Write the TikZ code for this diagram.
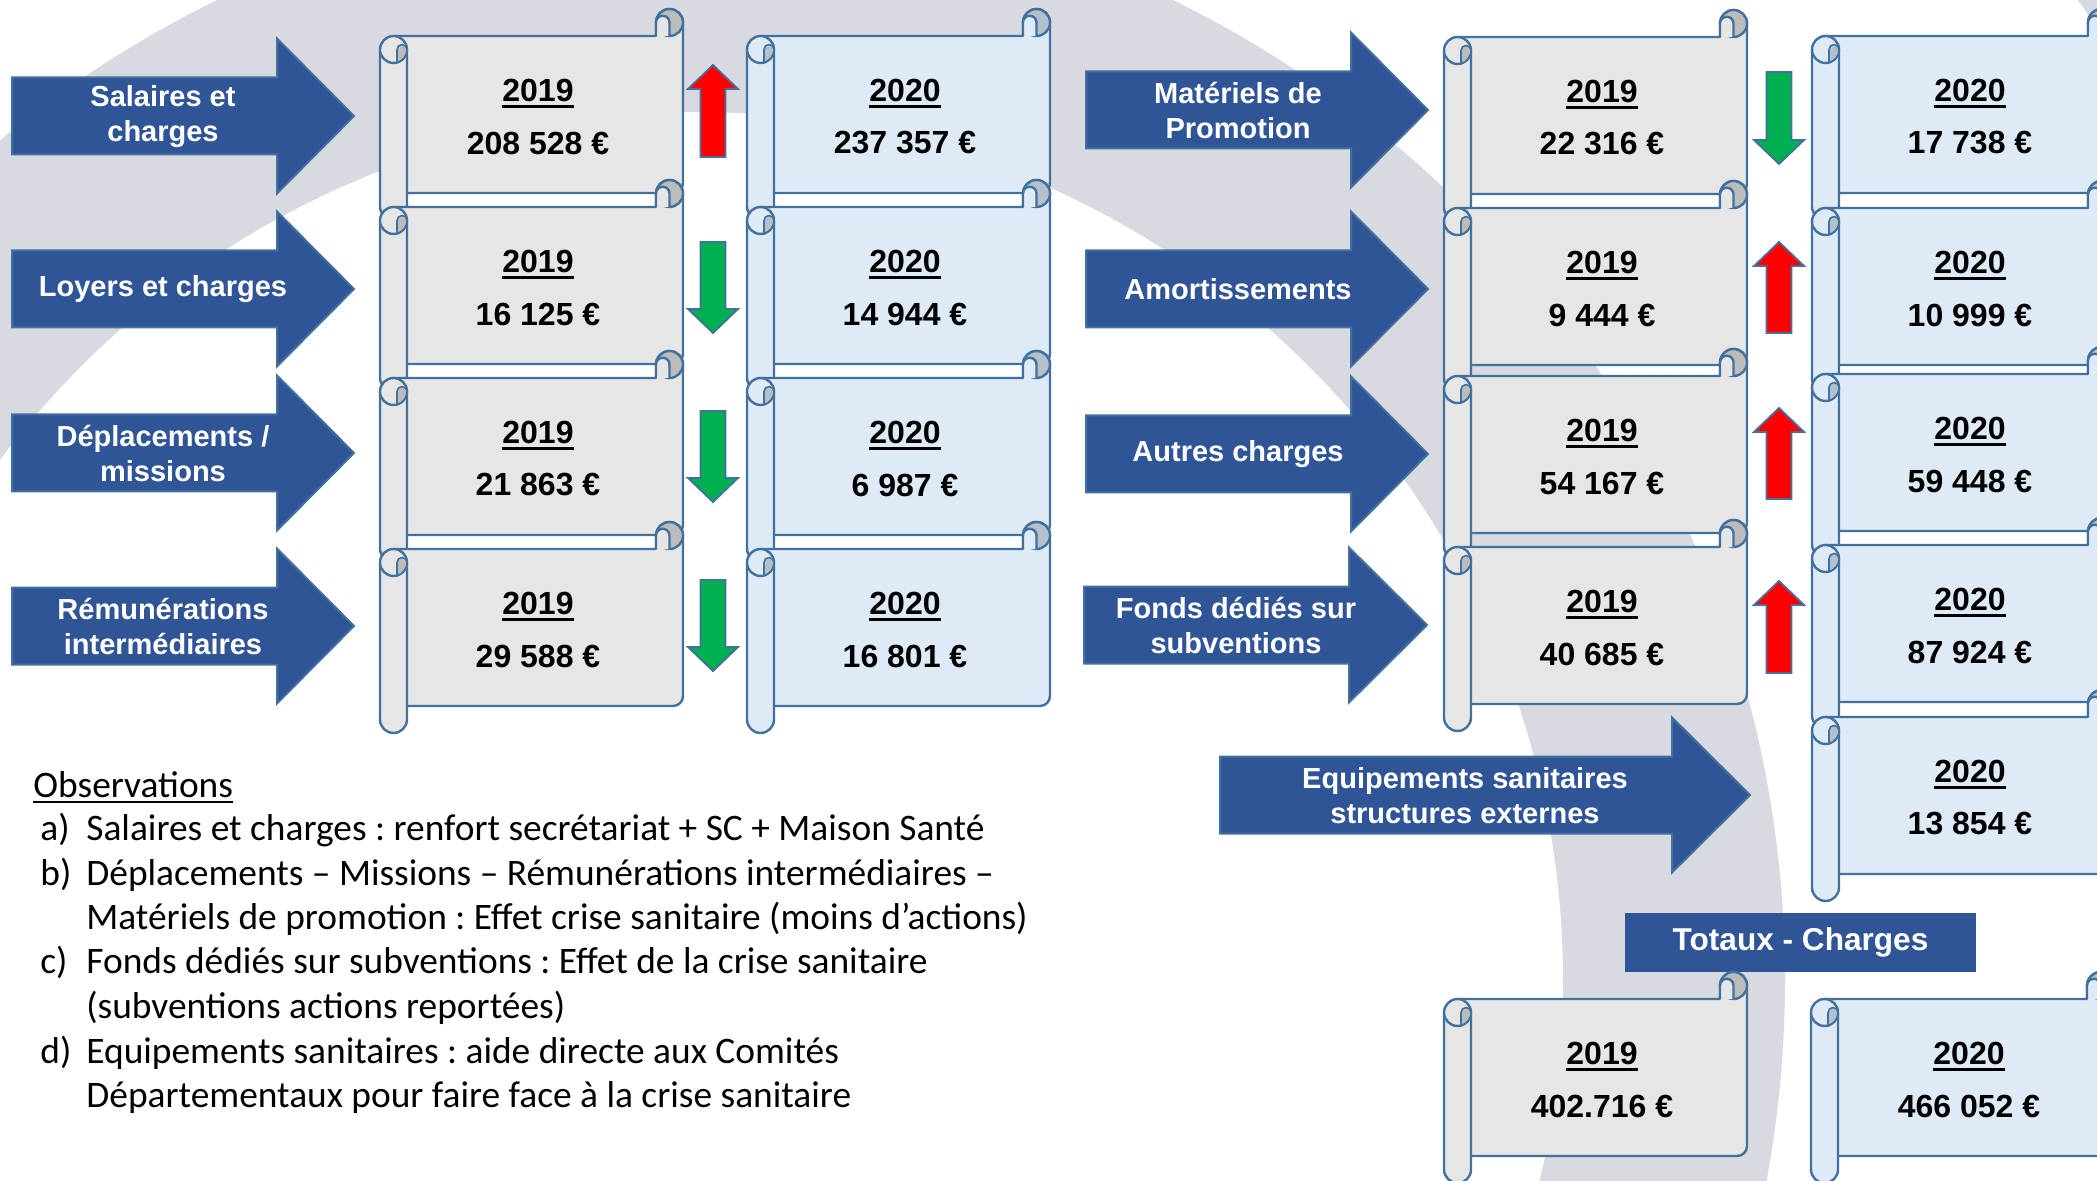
\documentclass[tikz,border=0pt]{standalone}
\usepackage{fontspec}
\setmainfont{Liberation Sans}
\newfontfamily\calib{Carlito}
\frenchspacing
\definecolor{bandc}{HTML}{D9D9E1}
\definecolor{arrowblue}{HTML}{2F5597}
\definecolor{edgeblue}{HTML}{41719C}
\definecolor{paperA}{HTML}{E7E6E6}
\definecolor{curlA}{HTML}{BDBCBC}
\definecolor{paperB}{HTML}{DEEBF7}
\definecolor{curlB}{HTML}{B4C0CC}
\definecolor{upred}{HTML}{FF0000}
\definecolor{downgreen}{HTML}{00B050}
\tikzset{
  scrollline/.style={draw=edgeblue, line width=1.2pt, line join=round},
  bigarrow/.style={fill=arrowblue, draw=edgeblue, line width=1pt},
  smallarrow/.style={draw=edgeblue, line width=0.9pt},
  arrowlabel/.style={text=white, font=\fontsize{14.5}{17.5}\selectfont\bfseries, align=center, inner sep=0pt},
  yearlabel/.style={font=\fontsize{16}{19}\selectfont\bfseries, inner sep=0pt},
  valuelabel/.style={font=\fontsize{16}{19}\selectfont\bfseries, inner sep=0pt},
  obstext/.style={font=\calib\fontsize{18.7}{22}\selectfont\frenchspacing, anchor=base west, inner sep=0pt},
  totbox/.style={fill=arrowblue, text=white, font=\fontsize{15.8}{19}\selectfont\bfseries, minimum width=175.5pt, minimum height=29.5pt, inner sep=0pt},
}
% scroll shape: #1 left, #2 top, #3 paper colour, #4 curl colour
\newcommand{\scrollshape}[4]{%
  \pgfmathsetmacro\sL{#1}\pgfmathsetmacro\sT{#2}%
  \pgfmathsetmacro\sR{#1+303}\pgfmathsetmacro\sB{#2+211}%
  \filldraw[scrollline, fill=#3] (\sL+13.5,\sT+27) -- (\sR-27,\sT+27) -- (\sR-27,\sT+13.5)
     arc[start angle=180,end angle=360,radius=13.5] -- (\sR,\sB-37)
     arc[start angle=0,end angle=90,radius=10] -- (\sL+13.5,\sB-27) -- cycle;
  \filldraw[scrollline, fill=#4] (\sR-13.5,\sT+13.5) circle[radius=13.5];
  \fill[#3] (\sR-27,\sT+27) -- (\sR-27,\sT+13.5) arc[start angle=180,end angle=360,radius=6.75] -- (\sR-13.5,\sT+27) -- cycle;
  \draw[scrollline] (\sR-27,\sT+27) -- (\sR-27,\sT+13.5) arc[start angle=180,end angle=360,radius=6.75] -- (\sR-13.5,\sT+27);
  \filldraw[scrollline, fill=#3] (\sL,\sT+40.5) -- (\sL,\sB-13.5)
     arc[start angle=180,end angle=0,radius=13.5] -- (\sL+27,\sT+40.5) -- cycle;
  \filldraw[scrollline, fill=#3] (\sL+13.5,\sT+40.5) circle[radius=13.5];
  \filldraw[scrollline, line width=0.8pt, fill=#4] (\sL+17,\sT+40.5) arc[start angle=180,end angle=360,radius=5]
     arc[start angle=0,end angle=75,radius=13.5] -- cycle;
}
% scroll texts: #1 name, #2 left, #3 top, #4 year, #5 value
\newcommand{\scrolltext}[5]{%
  \node[yearlabel] (#1y) at (#2+158,#3+81) {#4};
  \draw[line width=1.7pt] ([yshift=-2.5pt]#1y.south west) -- ([yshift=-2.5pt]#1y.south east);
  \node[valuelabel] (#1v) at (#2+158,#3+134) {#5};
}
\newcommand{\blockarrow}[4]{% body left, head start, tip x, centre y
  \path[bigarrow] (#1,#4-38.5) -- (#2,#4-38.5) -- (#2,#4-77.5) -- (#3,#4) -- (#2,#4+77.5) -- (#2,#4+38.5) -- (#1,#4+38.5) -- cycle;
}
\newcommand{\uparr}[4]{% x, tip y, bottom y, colour
  \filldraw[smallarrow, fill=#4] (#1,#2) -- (#1+25,#2+24) -- (#1+12.5,#2+24) -- (#1+12.5,#3) -- (#1-12.5,#3) -- (#1-12.5,#2+24) -- (#1-25,#2+24) -- cycle;
}
\newcommand{\downarr}[4]{% x, top y, tip y, colour
  \filldraw[smallarrow, fill=#4] (#1-12.5,#2) -- (#1+12.5,#2) -- (#1+12.5,#3-24) -- (#1+25,#3-24) -- (#1,#3) -- (#1-25,#3-24) -- (#1-12.5,#3-24) -- cycle;
}
\begin{document}
\begin{tikzpicture}[x=0.5pt,y=-0.5pt]
\useasboundingbox (0,0) rectangle (2097,1181);
\clip (0,0) rectangle (2097,1181);
\fill[white] (0,0) rectangle (2097,1181);
% background band
\fill[bandc, even odd rule] (695,980) circle[radius=1090] (695,980) circle[radius=868];
\fill[bandc] (2078,0) -- (2097,0) -- (2097,28) -- cycle;

% left block arrows
\blockarrow{12}{277}{354}{116}
\blockarrow{12}{277}{354}{289}
\blockarrow{12}{277}{354}{453}
\blockarrow{12}{277}{354}{626}
\node[arrowlabel] (l1) at (163,117) {Salaires et\\charges};
\node[arrowlabel] (l2) at (163,289) {Loyers et charges};
\node[arrowlabel] (l3) at (163,454) {Déplacements /\\missions};
\node[arrowlabel] (l4) at (163,627) {Rémunérations\\intermédiaires};

% right block arrows
\blockarrow{1086}{1351}{1428}{110}
\blockarrow{1086}{1351}{1428}{289}
\blockarrow{1086}{1351}{1428}{454}
\blockarrow{1084}{1349}{1427}{625}
\blockarrow{1220}{1672}{1750}{795}
\node[arrowlabel] (r1) at (1238,111) {Matériels de\\Promotion};
\node[arrowlabel] (r2) at (1238,289) {Amortissements};
\node[arrowlabel] (r3) at (1238,454) {Autres charges};
\node[arrowlabel] (r4) at (1236,626) {Fonds dédiés sur\\subventions};
\node[arrowlabel] (r5) at (1465,796) {Equipements sanitaires\\structures externes};

% column A (2019)
\scrollshape{380}{9}{paperA}{curlA}\scrolltext{a1}{380}{9}{2019}{208~528~€}
\scrollshape{380}{180}{paperA}{curlA}\scrolltext{a2}{380}{180}{2019}{16~125~€}
\scrollshape{380}{351}{paperA}{curlA}\scrolltext{a3}{380}{351}{2019}{21~863~€}
\scrollshape{380}{522}{paperA}{curlA}\scrolltext{a4}{380}{522}{2019}{29~588~€}
% column B (2020)
\scrollshape{747}{9}{paperB}{curlB}\scrolltext{b1}{747}{9}{2020}{237~357~€}
\scrollshape{747}{180}{paperB}{curlB}\scrolltext{b2}{747}{180}{2020}{14~944~€}
\scrollshape{747}{351}{paperB}{curlB}\scrolltext{b3}{747}{351}{2020}{6~987~€}
\scrollshape{747}{522}{paperB}{curlB}\scrolltext{b4}{747}{522}{2020}{16~801~€}
% column C (2019)
\scrollshape{1444}{10}{paperA}{curlA}\scrolltext{c1}{1444}{10}{2019}{22~316~€}
\scrollshape{1444}{181}{paperA}{curlA}\scrolltext{c2}{1444}{181}{2019}{9~444~€}
\scrollshape{1444}{349}{paperA}{curlA}\scrolltext{c3}{1444}{349}{2019}{54~167~€}
\scrollshape{1444}{520}{paperA}{curlA}\scrolltext{c4}{1444}{520}{2019}{40~685~€}
% column D (2020)
\scrollshape{1812}{9}{paperB}{curlB}\scrolltext{d1}{1812}{9}{2020}{17~738~€}
\scrollshape{1812}{181}{paperB}{curlB}\scrolltext{d2}{1812}{181}{2020}{10~999~€}
\scrollshape{1812}{347}{paperB}{curlB}\scrolltext{d3}{1812}{347}{2020}{59~448~€}
\scrollshape{1812}{518}{paperB}{curlB}\scrolltext{d4}{1812}{518}{2020}{87~924~€}
\scrollshape{1812}{690}{paperB}{curlB}\scrolltext{d5}{1812}{690}{2020}{13~854~€}
% totals
\node[totbox] (tot) at (1800.5,942.5) {Totaux - Charges};
\scrollshape{1444}{972}{paperA}{curlA}\scrolltext{t1}{1444}{972}{2019}{402.716~€}
\scrollshape{1811}{972}{paperB}{curlB}\scrolltext{t2}{1811}{972}{2020}{466~052~€}

% trend arrows
\uparr{713}{65}{157}{upred}
\downarr{713}{242}{333}{downgreen}
\downarr{713}{411}{502}{downgreen}
\downarr{713}{580}{671}{downgreen}
\downarr{1779}{72}{164}{downgreen}
\uparr{1779}{242}{333}{upred}
\uparr{1779}{408}{499}{upred}
\uparr{1779}{581}{673}{upred}

% observations
\node[obstext] (obs) at (33,797) {Observations};
\draw[line width=1pt] ([yshift=-2.6pt]obs.base west) -- ([yshift=-2.6pt]obs.base east);
\node[obstext] (la) at (40,840) {a)};
\node[obstext] (ta) at (86,840) {Salaires et charges : renfort secrétariat + SC + Maison Santé};
\node[obstext] (lb) at (40,885) {b)};
\node[obstext] (tb) at (86,885) {Déplacements – Missions – Rémunérations intermédiaires –};
\node[obstext] (tb2) at (86,929) {Matériels de promotion : Effet crise sanitaire (moins d’actions)};
\node[obstext] (lc) at (40,973) {c)};
\node[obstext] (tc) at (86,973) {Fonds dédiés sur subventions : Effet de la crise sanitaire};
\node[obstext] (tc2) at (86,1018) {(subventions actions reportées)};
\node[obstext] (ld) at (40,1063) {d)};
\node[obstext] (td) at (86,1063) {Equipements sanitaires : aide directe aux Comités};
\node[obstext] (td2) at (86,1107) {Départementaux pour faire face à la crise sanitaire};
\end{tikzpicture}
\end{document}
